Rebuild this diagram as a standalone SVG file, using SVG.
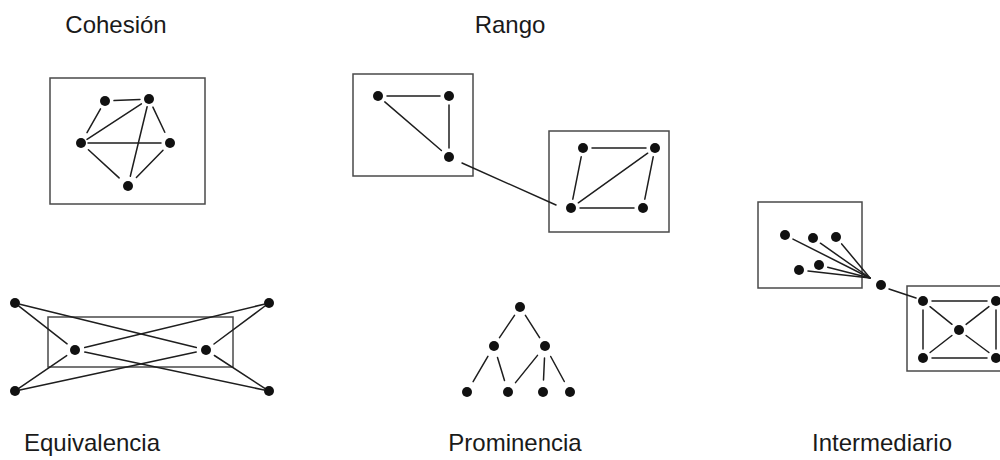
<svg xmlns="http://www.w3.org/2000/svg" width="1000" height="460" viewBox="0 0 1000 460">
  <style>
    .frame { fill: none; stroke: #4a4a4a; stroke-width: 1.5; }
    .edge { stroke: #1e1e1e; stroke-width: 1.5; stroke-linecap: round; fill: none; }
    .dot { fill: #111; }
    .label { font-family: "Liberation Sans", Arial, sans-serif; font-size: 24px; fill: #1a1a1a; text-anchor: middle; }
  </style>
  <rect width="1000" height="460" fill="#fff"/>

  <!-- Titles -->
  <g id="titles">
    <text class="label" x="116" y="33">Cohesión</text>
    <text class="label" x="510" y="33">Rango</text>
    <text class="label" x="92" y="451">Equivalencia</text>
    <text class="label" x="515" y="451">Prominencia</text>
    <text class="label" x="882" y="451">Intermediario</text>
  </g>

  <!-- Frames around groups -->
  <g id="frames">
    <rect class="frame" x="50" y="78" width="155" height="126"/>
    <rect class="frame" x="353" y="74" width="120" height="102"/>
    <rect class="frame" x="549" y="131" width="120" height="101"/>
    <rect class="frame" x="48" y="317" width="185" height="50"/>
    <rect class="frame" x="758" y="202" width="104" height="86"/>
    <rect class="frame" x="907" y="286" width="105" height="85"/>
  </g>

  <!-- Connectors -->
  <g id="connectors">
    <!-- Cohesión -->
    <line class="edge" x1="114" y1="100.6" x2="140" y2="99.4"/>
    <line class="edge" x1="100.5" y1="108.8" x2="87" y2="132.6"/>
    <line class="edge" x1="152.9" y1="107.1" x2="164.8" y2="132.2"/>
    <line class="edge" x1="88.4" y1="149.8" x2="119.1" y2="177.9"/>
    <line class="edge" x1="163" y1="150.2" x2="136.4" y2="177.4"/>
    <line class="edge" x1="87" y1="139.4" x2="141.4" y2="103.9"/>
    <line class="edge" x1="88" y1="143" x2="161" y2="143"/>
    <line class="edge" x1="147.1" y1="106.8" x2="130.3" y2="176.3"/>
    <!-- Rango -->
    <line class="edge" x1="387" y1="96" x2="440" y2="96"/>
    <line class="edge" x1="449" y1="105" x2="449" y2="148"/>
    <line class="edge" x1="384.8" y1="101.9" x2="441.4" y2="150.5"/>
    <line class="edge" x1="462" y1="163" x2="556" y2="205"/>
    <line class="edge" x1="592" y1="148" x2="646" y2="148"/>
    <line class="edge" x1="581.2" y1="156.8" x2="572.8" y2="199.2"/>
    <line class="edge" x1="653.2" y1="156.8" x2="644.8" y2="199.2"/>
    <line class="edge" x1="580" y1="208" x2="634" y2="208"/>
    <line class="edge" x1="647.7" y1="153.2" x2="578.3" y2="202.8"/>
    <!-- Equivalencia -->
    <line class="edge" x1="18.9" y1="306.1" x2="67.1" y2="343.8"/>
    <line class="edge" x1="19.9" y1="304.2" x2="196.3" y2="347.6"/>
    <line class="edge" x1="19.1" y1="388.2" x2="66.7" y2="355.6"/>
    <line class="edge" x1="19.9" y1="390" x2="196.2" y2="352.1"/>
    <line class="edge" x1="265" y1="306" x2="214" y2="344"/>
    <line class="edge" x1="264.1" y1="304.2" x2="84.7" y2="347.6"/>
    <line class="edge" x1="264.8" y1="388.3" x2="214.4" y2="355.5"/>
    <line class="edge" x1="264.1" y1="390" x2="84.8" y2="352.1"/>
    <!-- Prominencia -->
    <line class="edge" x1="514.5" y1="315.3" x2="499.5" y2="337.7"/>
    <line class="edge" x1="525.4" y1="315.4" x2="539.6" y2="337.6"/>
    <line class="edge" x1="487.9" y1="356.4" x2="473.1" y2="381.6"/>
    <line class="edge" x1="497.5" y1="357.5" x2="504.5" y2="380.5"/>
    <line class="edge" x1="537.5" y1="355.4" x2="515.5" y2="382.6"/>
    <line class="edge" x1="544.5" y1="358" x2="543.5" y2="380"/>
    <line class="edge" x1="550.7" y1="356.5" x2="564.3" y2="381.5"/>
    <!-- Intermediario -->
    <line class="edge" x1="793" y1="239.1" x2="870" y2="278"/>
    <line class="edge" x1="820.4" y1="243.2" x2="870" y2="278"/>
    <line class="edge" x1="841.7" y1="243.9" x2="870" y2="278"/>
    <line class="edge" x1="808" y1="271" x2="870" y2="278"/>
    <line class="edge" x1="827.7" y1="267.2" x2="870" y2="278"/>
    <line class="edge" x1="889" y1="289" x2="916" y2="298"/>
    <line class="edge" x1="932" y1="301" x2="987" y2="301"/>
    <line class="edge" x1="932" y1="358" x2="987" y2="358"/>
    <line class="edge" x1="923" y1="310" x2="923" y2="349"/>
    <line class="edge" x1="996" y1="310" x2="996" y2="349"/>
    <line class="edge" x1="930" y1="306.7" x2="952" y2="324.3"/>
    <line class="edge" x1="988.9" y1="306.6" x2="966.1" y2="324.4"/>
    <line class="edge" x1="930.1" y1="352.5" x2="951.9" y2="335.5"/>
    <line class="edge" x1="988.9" y1="352.5" x2="966.1" y2="335.5"/>
  </g>

  <!-- Nodes -->
  <g id="cohesion-nodes">
    <circle id="c1" class="dot" cx="105" cy="101" r="5"/>
    <circle id="c2" class="dot" cx="149" cy="99" r="5"/>
    <circle id="c3" class="dot" cx="81" cy="143" r="5"/>
    <circle id="c4" class="dot" cx="170" cy="143" r="5"/>
    <circle id="c5" class="dot" cx="128" cy="186" r="5"/>
  </g>
  <g id="rango-nodes">
    <circle id="r1" class="dot" cx="378" cy="96" r="5"/>
    <circle id="r2" class="dot" cx="449" cy="96" r="5"/>
    <circle id="r3" class="dot" cx="449" cy="157" r="5"/>
    <circle id="r4" class="dot" cx="583" cy="148" r="5"/>
    <circle id="r5" class="dot" cx="655" cy="148" r="5"/>
    <circle id="r6" class="dot" cx="571" cy="208" r="5"/>
    <circle id="r7" class="dot" cx="643" cy="208" r="5"/>
  </g>
  <g id="equivalencia-nodes">
    <circle id="e1" class="dot" cx="15" cy="303" r="5"/>
    <circle id="e2" class="dot" cx="269" cy="303" r="5"/>
    <circle id="e3" class="dot" cx="15" cy="391" r="5"/>
    <circle id="e4" class="dot" cx="269" cy="391" r="5"/>
    <circle id="e5" class="dot" cx="75" cy="350" r="5"/>
    <circle id="e6" class="dot" cx="206" cy="350" r="5"/>
  </g>
  <g id="prominencia-nodes">
    <circle id="p1" class="dot" cx="520" cy="307" r="5"/>
    <circle id="p2" class="dot" cx="494" cy="346" r="5"/>
    <circle id="p3" class="dot" cx="545" cy="346" r="5"/>
    <circle id="p4" class="dot" cx="467" cy="392" r="5"/>
    <circle id="p5" class="dot" cx="508" cy="392" r="5"/>
    <circle id="p6" class="dot" cx="543" cy="392" r="5"/>
    <circle id="p7" class="dot" cx="570" cy="392" r="5"/>
  </g>
  <g id="intermediario-nodes">
    <circle id="i1" class="dot" cx="785" cy="235" r="5"/>
    <circle id="i2" class="dot" cx="813" cy="238" r="5"/>
    <circle id="i3" class="dot" cx="836" cy="237" r="5"/>
    <circle id="i4" class="dot" cx="799" cy="270" r="5"/>
    <circle id="i5" class="dot" cx="819" cy="265" r="5"/>
    <circle id="i6" class="dot" cx="881" cy="285" r="5"/>
    <circle id="i7" class="dot" cx="923" cy="301" r="5"/>
    <circle id="i8" class="dot" cx="996" cy="301" r="5"/>
    <circle id="i9" class="dot" cx="923" cy="358" r="5"/>
    <circle id="i10" class="dot" cx="996" cy="358" r="5"/>
    <circle id="i11" class="dot" cx="959" cy="330" r="5"/>
  </g>
</svg>
